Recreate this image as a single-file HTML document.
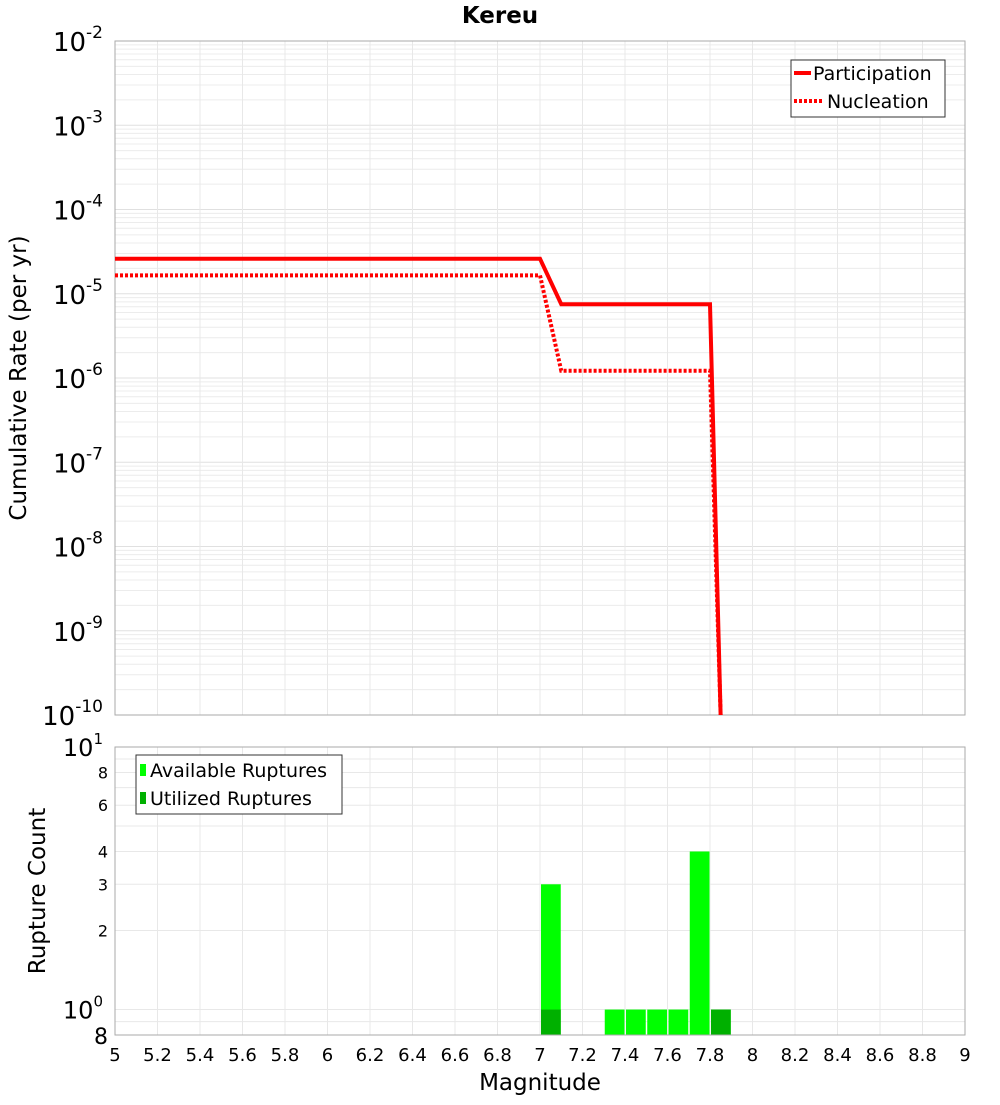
<!DOCTYPE html>
<html><head><meta charset="utf-8"><style>
body{margin:0;background:#fff;}
svg text{font-family:"DejaVu Sans","Liberation Sans",sans-serif;}
</style></head><body>
<svg id="chart" width="1000" height="1100" xmlns="http://www.w3.org/2000/svg"></svg>
<script>
const xTicks=[5,5.2,5.4,5.6,5.8,6,6.2,6.4,6.6,6.8,7,7.2,7.4,7.6,7.8,8,8.2,8.4,8.6,8.8,9];
const partMag=[5,7.0,7.1,7.8,7.85];
const partRate=[2.6e-5,2.6e-5,7.5e-6,7.5e-6,1e-10];
const nuclMag=[5,7.0,7.1,7.8,7.85];
const nuclRate=[1.65e-5,1.65e-5,1.22e-6,1.22e-6,1e-10];
const barMag=[7.05,7.35,7.45,7.55,7.65,7.75,7.85];
const availCount=[3,1,1,1,1,4,1];
const utilCount=[1,0,0,0,0,0,1];
const topExps=[-2,-3,-4,-5,-6,-7,-8,-9,-10];
const botTicks=[10,8,6,4,3,2,1,0.8];

const NS="http://www.w3.org/2000/svg";
const svg=document.getElementById('chart');
function el(t,a,p){const e=document.createElementNS(NS,t);for(const k in a)e.setAttribute(k,a[k]);(p||svg).appendChild(e);return e;}
const X0=115,X1=965;
const xs=v=>X0+(v-5)/4*(X1-X0);
const T0=41,T1=715;
const ysT=v=>T0+(-2-Math.log10(v))/8*(T1-T0);
const B0=747,B1=1035;
const ysB=v=>B0+(1-Math.log10(v))/(1-Math.log10(0.8))*(B1-B0);

let t=el('text',{x:500,y:23,'text-anchor':'middle','font-size':23,'font-weight':'bold'});t.textContent='Kereu';


const gT=el('g',{});
for(let e=-10;e<-2;e++)for(let m=1;m<10;m++){const y=ysT(m*Math.pow(10,e));el('line',{x1:X0,x2:X1,y1:y,y2:y,stroke:m==1?'#e0e0e0':'#ececec','stroke-width':1},gT);}
xTicks.forEach(v=>{const x=xs(v);el('line',{x1:x,x2:x,y1:T0,y2:T1,stroke:'#e8e8e8'},gT);});
el('rect',{x:X0,y:T0,width:X1-X0,height:T1-T0,fill:'none',stroke:'#aaa'});
topExps.forEach(e=>{const y=ysT(Math.pow(10,e));const tx=el('text',{x:103,y:y+10,'text-anchor':'end','font-size':26});

tx.innerHTML='10<tspan dy="-13" font-size="17">'+e+'</tspan>';});
t=el('text',{x:26,y:378,'text-anchor':'middle','font-size':23,transform:'rotate(-90 26 378)'});t.textContent='Cumulative Rate (per yr)';


function line(mags,rates,dash,name){const d=mags.map((m,i)=>(i?'L':'M')+xs(m)+','+Math.min(ysT(rates[i]),T1+2)).join(' ');
const p=el('path',{d:d,fill:'none',stroke:'#f00','stroke-width':4,'stroke-dasharray':dash||'none'});
}
line(nuclMag,nuclRate,'3,2','nucleation-line');
line(partMag,partRate,null,'participation-line');

const lg=el('g',{});
el('rect',{x:791,y:60,width:154,height:57,fill:'#fff',stroke:'#333'},lg);
el('line',{x1:794,x2:811,y1:73,y2:73,stroke:'#f00','stroke-width':4},lg);
el('line',{x1:794,x2:822,y1:101,y2:101,stroke:'#f00','stroke-width':4,'stroke-dasharray':'3,2'},lg);
t=el('text',{x:813,y:80,'font-size':19},lg);t.textContent='Participation';
t=el('text',{x:827,y:108,'font-size':19},lg);t.textContent='Nucleation';

const gB=el('g',{});
[0.9,1,2,3,4,5,6,7,8,9].forEach(v=>{const y=ysB(v);el('line',{x1:X0,x2:X1,y1:y,y2:y,stroke:'#e8e8e8'},gB);});
xTicks.forEach(v=>{const x=xs(v);el('line',{x1:x,x2:x,y1:B0,y2:B1,stroke:'#e8e8e8'},gB);});
barMag.forEach((m,i)=>{const xl=xs(m-0.05)+1,w=xs(m+0.05)-xs(m-0.05)-1.5;
if(availCount[i]>0){const r=el('rect',{x:xl,y:ysB(availCount[i]),width:w,height:B1-ysB(availCount[i]),fill:'#00ff00'});
}
if(utilCount[i]>0){const r=el('rect',{x:xl,y:ysB(utilCount[i]),width:w,height:B1-ysB(utilCount[i]),fill:'#00b000'});
}});
el('rect',{x:X0,y:B0,width:X1-X0,height:B1-B0,fill:'none',stroke:'#aaa'});
botTicks.forEach(v=>{const y=ysB(v);let tx;
if(v==10||v==1){tx=el('text',{x:103,y:y+9,'text-anchor':'end','font-size':24});tx.innerHTML='10<tspan dy="-12" font-size="15">'+(v==10?1:0)+'</tspan>';}
else if(v==0.8){tx=el('text',{x:108,y:y+9,'text-anchor':'end','font-size':22});tx.textContent='8';}
else{tx=el('text',{x:108,y:y+6,'text-anchor':'end','font-size':16});tx.textContent=String(v);}
});
t=el('text',{x:45,y:891,'text-anchor':'middle','font-size':23,transform:'rotate(-90 45 891)'});t.textContent='Rupture Count';

xTicks.forEach(v=>{const tx=el('text',{x:xs(v),y:1061,'text-anchor':'middle','font-size':18});tx.textContent=String(v);
});
t=el('text',{x:540,y:1090,'text-anchor':'middle','font-size':23});t.textContent='Magnitude';

const bl=el('g',{});
el('rect',{x:136,y:755,width:206,height:59,fill:'#fff',stroke:'#333'},bl);
el('rect',{x:140,y:764,width:6,height:12,fill:'#00ff00'},bl);
el('rect',{x:140,y:792,width:6,height:12,fill:'#00b000'},bl);
t=el('text',{x:150,y:777,'font-size':19},bl);t.textContent='Available Ruptures';
t=el('text',{x:150,y:805,'font-size':19},bl);t.textContent='Utilized Ruptures';
</script>
</body></html>
